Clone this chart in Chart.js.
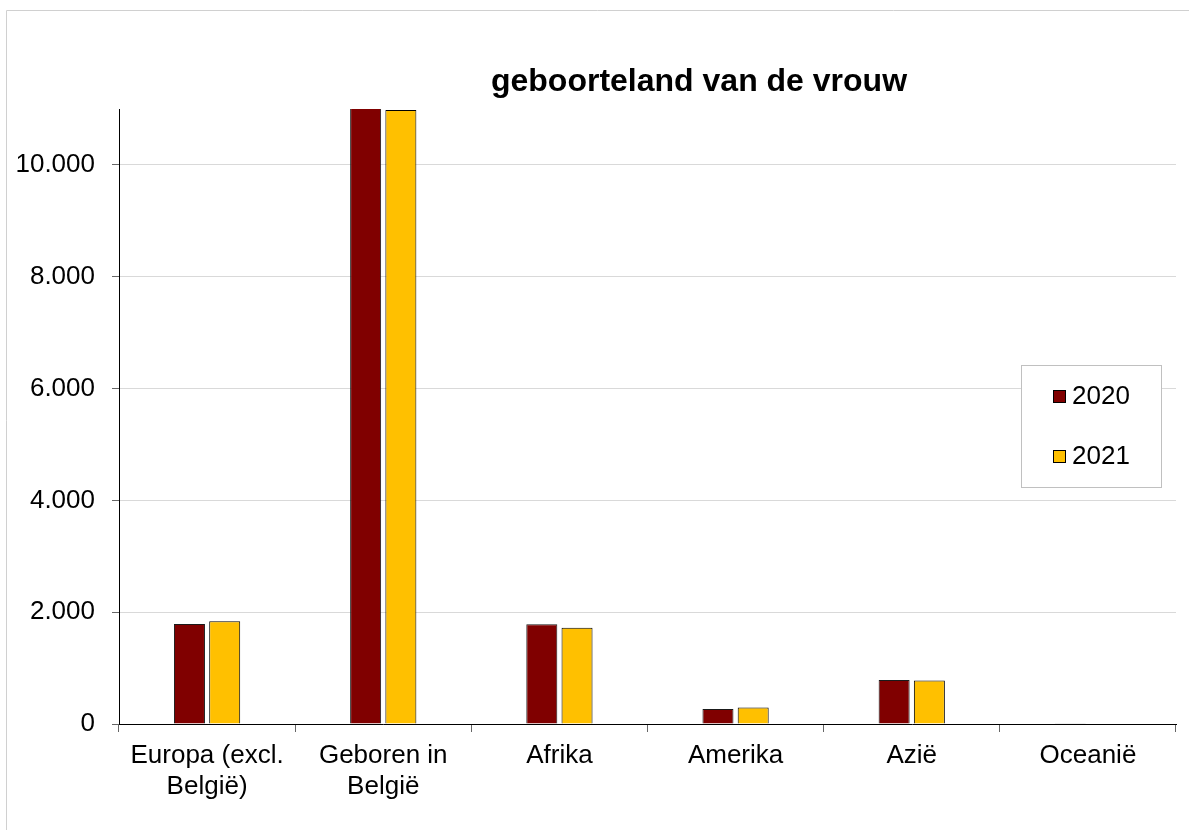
<!DOCTYPE html>
<html>
<head>
<meta charset="utf-8">
<script src="https://cdn.jsdelivr.net/npm/chart.js@4"></script>
<style>
  html, body { margin: 0; padding: 0; background: #fff; }
  #wrap { width: 1189px; height: 830px; position: relative; }
</style>
</head>
<body>
<div id="wrap"><canvas id="chart"></canvas></div>
<script>
const categories = [
  ['Europa (excl.', 'België)'],
  ['Geboren in', 'België'],
  'Afrika',
  'Amerika',
  'Azië',
  'Oceanië'
];
const years = ['2020', '2021'];
const values2020 = [1790, 11030, 1785, 270, 788, 12];
const values2021 = [1838, 10980, 1720, 297, 776, 10];
const yTicks = [0, 2000, 4000, 6000, 8000, 10000];

const FONT = "'Liberation Sans', Arial, Helvetica, sans-serif";
const colors = ['#800000', '#ffc000'];

function fmt(v) {
  return String(v).replace(/\B(?=(\d{3})+(?!\d))/g, '.');
}

// frame, title and the boxed legend inside the plot
const decor = {
  id: 'decor',
  beforeDraw(chart) {
    const ctx = chart.ctx;
    ctx.save();
    ctx.strokeStyle = '#d0d0d0';
    ctx.lineWidth = 1;
    ctx.beginPath();
    ctx.moveTo(6.5, chart.height);
    ctx.lineTo(6.5, 10.5);
    ctx.lineTo(chart.width, 10.5);
    ctx.stroke();
    ctx.restore();
  },
  afterDraw(chart) {
    const ctx = chart.ctx;
    const area = chart.chartArea;
    ctx.save();
    ctx.fillStyle = '#000';
    ctx.font = 'bold 32px ' + FONT;
    ctx.textAlign = 'center';
    ctx.textBaseline = 'alphabetic';
    ctx.fillText('geboorteland van de vrouw', 699, 91);

    const bx = area.right - 155, by = 365, bw = 140, bh = 122;
    ctx.fillStyle = '#fff';
    ctx.fillRect(bx, by, bw, bh);
    ctx.strokeStyle = '#c0c0c0';
    ctx.lineWidth = 1;
    ctx.strokeRect(bx + 0.5, by + 0.5, bw, bh);

    ctx.font = '26px ' + FONT;
    ctx.textAlign = 'left';
    ctx.textBaseline = 'middle';
    chart.data.datasets.forEach((ds, i) => {
      const sy = by + 25 + i * 60;
      ctx.fillStyle = ds.backgroundColor;
      ctx.fillRect(bx + 32, sy, 13, 13);
      ctx.strokeStyle = '#000';
      ctx.strokeRect(bx + 32.5, sy + 0.5, 12, 12);
      ctx.fillStyle = '#000';
      ctx.fillText(ds.label, bx + 51, sy + 7);
    });
    ctx.restore();
  }
};

new Chart(document.getElementById('chart'), {
  type: 'bar',
  data: {
    labels: categories,
    datasets: [
      { label: years[0], data: values2020, backgroundColor: colors[0], borderColor: '#1a1a1a', borderWidth: 1 },
      { label: years[1], data: values2021, backgroundColor: colors[1], borderColor: '#000', borderWidth: 1 }
    ]
  },
  options: {
    responsive: true,
    maintainAspectRatio: false,
    animation: false,
    categoryPercentage: 0.4,
    barPercentage: 0.88,
    layout: { padding: { top: 109, right: 13, left: 0, bottom: 0 } },
    plugins: {
      legend: { display: false },
      title: { display: false },
      tooltip: { enabled: false }
    },
    scales: {
      x: {
        offset: true,
        border: { color: '#000', width: 1 },
        grid: { drawOnChartArea: false, drawTicks: true, tickLength: 8, tickColor: '#666', offset: true },
        ticks: { color: '#000', font: { family: FONT, size: 26, lineHeight: 1.2 }, padding: 8, maxRotation: 0, autoSkip: false },
        afterFit(scale) { scale.height = 106; }
      },
      y: {
        min: 0,
        max: 11000,
        border: { color: '#000', width: 1 },
        grid: { color: '#d9d9d9', lineWidth: 1, tickLength: 7, tickColor: '#666' },
        ticks: { color: '#000', font: { family: FONT, size: 26 }, padding: 17, callback: v => fmt(v) },
        afterBuildTicks(scale) { scale.ticks = yTicks.map(v => ({ value: v })); },
        afterFit(scale) { scale.width = 119; }
      }
    }
  },
  plugins: [decor]
});
</script>
</body>
</html>
